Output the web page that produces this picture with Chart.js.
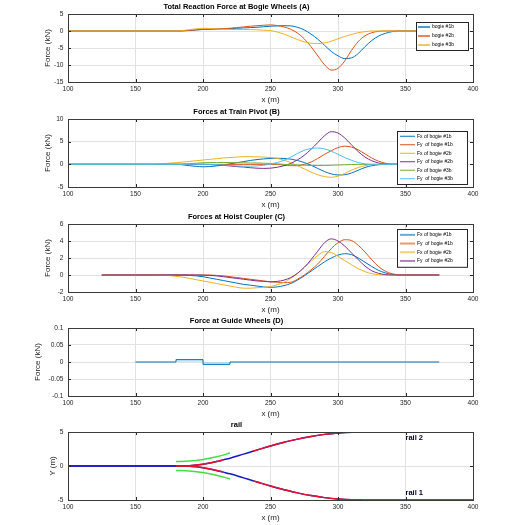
<!DOCTYPE html>
<html><head><meta charset="utf-8">
<script src="https://cdn.jsdelivr.net/npm/chart.js@4.4.0/dist/chart.umd.min.js"></script>
<style>
html,body{margin:0;padding:0;background:#fff;}
body{width:524px;height:525px;position:relative;overflow:hidden;}
canvas{position:absolute;left:0;}
</style></head><body>
<canvas id="cA" width="524" height="105" style="top:0px"></canvas>
<canvas id="cB" width="524" height="105" style="top:105px"></canvas>
<canvas id="cC" width="524" height="105" style="top:210px"></canvas>
<canvas id="cD" width="524" height="105" style="top:314px"></canvas>
<canvas id="cE" width="524" height="107" style="top:418px"></canvas>
<script>
// ---------------- DATA ----------------
const xTicksRange = [100, 400];
// positions along track (m)
const xsAB = [100,150,160,165,170,175,180,185,190,195,200,205,210,215,220,225,230,235,240,245,250,255,260,265,270,275,280,285,290,295,300,305,310,315,320,325,330,335,340,345,350,375];
const xsC  = [125,150,160,165,170,175,180,185,190,195,200,205,210,215,220,225,230,235,240,245,250,255,260,265,270,275,280,285,290,295,300,305,310,315,320,325,330,335,340,345,350,375];

// (A) Total reaction force at bogie wheels (kN)
const labelsA = ['bogie #1b','bogie #2b','bogie #3b'];
const bogie1b = [0,0, 0,0,0,0,0,0.05,0.15,0.3,0.45,0.5,0.55,0.6,0.7,0.8,0.9,1.0,1.1,1.25,1.4,1.5,1.55,1.5,1.1,0.3,-0.9,-2.4,-4.2,-6.0,-7.3,-8.1,-7.9,-6.6,-4.6,-2.8,-1.5,-0.7,-0.2,0,0, 0];
const bogie2b = [0,0, 0,0,0,0,0,0.05,0.2,0.35,0.5,0.55,0.6,0.7,0.8,1.0,1.2,1.4,1.55,1.7,1.8,1.6,1.2,0.5,-0.6,-2.3,-4.6,-7.3,-9.9,-11.5,-11.0,-8.8,-5.7,-3.1,-1.4,-0.5,-0.1,0,0,0,0, 0];
const bogie3b = [0,0, 0,0,0,0,0,0.15,0.4,0.65,0.8,0.75,0.6,0.5,0.45,0.45,0.45,0.4,0.35,0.25,0.1,-0.3,-0.9,-1.7,-2.5,-3.2,-3.6,-3.7,-3.5,-3.0,-2.3,-1.6,-1.0,-0.5,-0.2,0,0,0,0,0,0, 0];

// (B) Forces at train pivot (kN)
const labelsB = ['Fx of bogie #1b','Fy  of bogie #1b','Fx of bogie #2b','Fy  of bogie #2b','Fx of bogie #3b','Fy  of bogie #3b'];
const pivFx1 = [0,0, 0,0,0,0,0,-0.1,-0.3,-0.45,-0.55,-0.5,-0.35,-0.15,0.1,0.35,0.6,0.85,1.05,1.2,1.3,1.35,1.3,1.15,0.85,0.4,-0.2,-0.9,-1.6,-2.1,-2.35,-2.3,-1.9,-1.3,-0.7,-0.3,-0.1,0,0,0,0, 0];
const pivFy1 = [0,0, 0,0,0,0,0,0,0,0,0,0,0,0,0,0,0,0,0,0,0,0,-0.2,-0.3,-0.3,0,0.5,1.3,2.2,3.0,3.7,4.0,3.8,3.2,2.3,1.4,0.7,0.25,0.05,0,0, 0];
const pivFx2 = [0,0, 0,0.05,0.15,0.25,0.35,0.5,0.65,0.8,0.95,1.1,1.25,1.4,1.5,1.6,1.7,1.7,1.65,1.6,1.5,1.3,0.9,0.4,-0.3,-1.0,-1.7,-2.3,-2.7,-2.85,-2.6,-2.0,-1.3,-0.7,-0.3,-0.1,0,0,0,0,0, 0];
const pivFy2 = [0,0, 0,0,0,0,0,0,0,0,0,-0.05,-0.15,-0.25,-0.35,-0.5,-0.6,-0.75,-0.85,-0.9,-0.85,-0.65,-0.3,0.2,1.0,2.0,3.3,4.8,6.3,7.2,6.9,5.8,4.3,2.8,1.6,0.8,0.3,0.05,0,0,0, 0];
const pivFx3 = [0,0, 0,0,0,0,0,0.05,0.15,0.25,0.35,0.4,0.4,0.4,0.4,0.35,0.35,0.3,0.3,0.25,0.2,0.1,0,-0.1,-0.15,-0.2,-0.25,-0.25,-0.25,-0.2,-0.15,-0.1,-0.05,0,0,0,0,0,0,0,0, 0];
const pivFy3 = [0,0, 0,0,0,0,0,0,0,0,0,0,-0.05,-0.15,-0.25,-0.35,-0.4,-0.4,-0.35,-0.2,0.05,0.4,0.9,1.6,2.4,3.1,3.5,3.6,3.4,2.9,2.2,1.5,0.9,0.4,0.1,0,0,0,0,0,0, 0];

// (C) Forces at hoist coupler (kN)
const labelsC = ['Fx of bogie #1b','Fy  of bogie #1b','Fx of bogie #2b','Fy  of bogie #2b'];
const hoiFx1 = [0,0, 0,0,0,0,0,0,-0.05,-0.1,-0.2,-0.35,-0.5,-0.65,-0.8,-0.95,-1.1,-1.2,-1.3,-1.4,-1.45,-1.4,-1.25,-1.0,-0.6,-0.1,0.45,1.0,1.55,2.0,2.35,2.5,2.4,2.0,1.5,1.0,0.55,0.25,0.08,0,0, 0];
const hoiFy1 = [0,0, 0,0,0,0,0,0,0,0,0,0,-0.05,-0.1,-0.2,-0.3,-0.4,-0.5,-0.6,-0.7,-0.8,-0.85,-0.9,-0.85,-0.5,0,0.6,1.3,2.2,3.1,3.8,4.15,4.05,3.5,2.7,1.8,1.0,0.45,0.15,0.03,0, 0];
const hoiFx2 = [0,0, 0,0,-0.02,-0.07,-0.15,-0.25,-0.4,-0.55,-0.7,-0.85,-1.0,-1.15,-1.3,-1.45,-1.55,-1.55,-1.5,-1.45,-1.35,-1.15,-0.85,-0.4,0.2,0.9,1.6,2.3,2.75,2.65,2.2,1.7,1.2,0.75,0.4,0.15,0.05,0,0,0,0, 0];
const hoiFy2 = [0,0, 0,0,0,0,0,0,0,0,-0.02,-0.05,-0.1,-0.2,-0.3,-0.4,-0.5,-0.6,-0.7,-0.75,-0.8,-0.75,-0.6,-0.3,0.2,0.9,1.8,2.8,3.8,4.25,4.0,3.4,2.6,1.8,1.05,0.5,0.2,0.05,0,0,0, 0];

// (D) Force at guide wheels (kN), piecewise constant
const xsD = [150,180,200,220,375];
const guideF = [0,0.007,-0.007,0,0];

// (E) rail geometry (m)
const railX  = [100,180,190,200,210,215,220,230,237,240,250,260,270,280,290,300,310,318,320,400];
const rail2Y = [0,0,0.05,0.25,0.65,0.9,1.15,1.75,2.17,2.35,2.95,3.5,3.95,4.35,4.65,4.85,4.97,5,5,5];
const rail1Y = [0,0,-0.05,-0.25,-0.65,-0.9,-1.15,-1.75,-2.17,-2.35,-2.95,-3.5,-3.95,-4.35,-4.65,-4.85,-4.97,-5,-5,-5];
const trainSegments = [[180,215],[237,318]];
const guideX  = [180,190,200,210,220];
const guideUp = [0.65,0.72,0.95,1.35,1.9];
const guideDn = [-0.65,-0.72,-0.95,-1.35,-1.9];
const railTextX = [350,350];
const railTextY = [4.1,-4.0];
const railText  = ['rail 2','rail 1'];

// ---------------- STYLE / BUILD ----------------
const FONT = "'Liberation Sans', Arial, Helvetica, sans-serif";
const MC = ['#0072BD','#D95319','#EDB120','#7E2F8E','#77AC30','#4DBEEE'];

const pts = (xs, ys) => xs.map((x, i) => ({x: x, y: ys[i]}));

const matBox = {
  id: 'matBox',
  afterDraw(chart) {
    const {ctx, chartArea: a, scales} = chart;
    ctx.save();
    ctx.strokeStyle = '#262626';
    ctx.lineWidth = 1;
    ctx.beginPath();
    scales.x.ticks.forEach(t => {
      const px = Math.round(scales.x.getPixelForValue(t.value)) + 0.5;
      ctx.moveTo(px, a.bottom); ctx.lineTo(px, a.bottom - 3);
      ctx.moveTo(px, a.top); ctx.lineTo(px, a.top + 3);
    });
    scales.y.ticks.forEach(t => {
      const py = Math.round(scales.y.getPixelForValue(t.value)) + 0.5;
      ctx.moveTo(a.left, py); ctx.lineTo(a.left + 3, py);
      ctx.moveTo(a.right, py); ctx.lineTo(a.right - 3, py);
    });
    ctx.stroke();
    ctx.strokeStyle = '#3a3a3a';
    ctx.strokeRect(Math.round(a.left) + 0.5, Math.round(a.top) + 0.5, Math.round(a.right - a.left), Math.round(a.bottom - a.top));
    ctx.restore();
  }
};

const boxLegend = {
  id: 'boxLegend',
  afterDraw(chart, args, o) {
    if (!o || !o.show) return;
    const ctx = chart.ctx;
    const ds = chart.data.datasets;
    const n = ds.length;
    const h = o.pad * 2 + n * o.rowH;
    ctx.save();
    ctx.fillStyle = '#fff';
    ctx.fillRect(o.x, o.y, o.w, h);
    ctx.strokeStyle = '#262626';
    ctx.lineWidth = 1;
    ctx.strokeRect(o.x + 0.5, o.y + 0.5, o.w, h);
    ctx.font = o.fontSize + 'px ' + FONT;
    ctx.textBaseline = 'middle';
    ds.forEach((d, i) => {
      const cy = o.y + o.pad + o.rowH * (i + 0.5);
      ctx.globalAlpha = o.alpha;
      ctx.strokeStyle = d.borderColor;
      ctx.lineWidth = o.lw;
      ctx.beginPath();
      ctx.moveTo(o.x + o.l0, cy); ctx.lineTo(o.x + o.l1, cy);
      ctx.stroke();
      ctx.globalAlpha = 1;
      ctx.fillStyle = '#000';
      ctx.fillText(d.label, o.x + o.l1 + 2, cy);
    });
    ctx.restore();
  }
};

const railLabels = {
  id: 'railLabels',
  afterDatasetsDraw(chart, args, o) {
    if (!o || !o.show) return;
    const {ctx, scales} = chart;
    ctx.save();
    ctx.font = 'bold 7.5px ' + FONT;
    ctx.fillStyle = '#000030';
    ctx.textBaseline = 'middle';
    railText.forEach((t, i) => {
      ctx.fillText(t, scales.x.getPixelForValue(railTextX[i]), scales.y.getPixelForValue(railTextY[i]));
    });
    ctx.restore();
  }
};

function fmt(v) { return String(Number(v.toFixed(3))); }

function makeOptions(p) {
  return {
    responsive: false, animation: false, maintainAspectRatio: false,
    layout: {padding: {left: 0, right: 51, top: 0, bottom: 0}},
    plugins: {
      legend: {display: false}, tooltip: {enabled: false},
      title: {display: true, text: p.title, color: '#000', font: {family: FONT, size: 7.5, weight: 'bold', lineHeight: 1.2}, padding: {top: 2.5, bottom: 2.5}},
      boxLegend: p.legend || {show: false},
      railLabels: {show: !!p.railLabels}
    },
    elements: {point: {radius: 0}},
    scales: {
      x: {
        type: 'linear', min: xTicksRange[0], max: xTicksRange[1],
        ticks: {stepSize: 50, color: '#262626', font: {family: FONT, size: 6.6}, padding: 3, maxRotation: 0, autoSkip: false, callback: fmt},
        grid: {color: '#e2e2e2', drawTicks: false, lineWidth: 1},
        border: {display: false},
        title: {display: true, text: 'x (m)', color: '#262626', font: {family: FONT, size: 8, lineHeight: 1.2}, padding: {top: 0, bottom: p.xTitlePad}},
        afterFit: s => { s.height = p.xH; }
      },
      y: {
        type: 'linear', min: p.ymin, max: p.ymax,
        ticks: {stepSize: p.ystep, color: '#262626', font: {family: FONT, size: 6.6}, padding: 4.5, autoSkip: false, callback: fmt},
        grid: {color: '#e2e2e2', drawTicks: false, lineWidth: 1},
        border: {display: false},
        title: {display: true, text: p.ylabel, color: '#262626', font: {family: FONT, size: 8, lineHeight: 1.2}, padding: {top: p.yTitlePad, bottom: 0}},
        afterFit: s => { s.width = 68; }
      }
    }
  };
}

function lineDs(label, xs, ys, color, extra) {
  return Object.assign({label: label, data: pts(xs, ys), borderColor: color, backgroundColor: color, borderWidth: 1, pointRadius: 0, fill: false, cubicInterpolationMode: 'monotone'}, extra || {});
}
// later series drawn on top (as in MATLAB)
const stackUp = arr => arr.map((d, i) => Object.assign(d, {order: -i}));

const plugins = [matBox, boxLegend, railLabels];

// Panel A
new Chart(document.getElementById('cA'), {
  type: 'line',
  data: {datasets: stackUp([
    lineDs(labelsA[0], xsAB, bogie1b, MC[0]),
    lineDs(labelsA[1], xsAB, bogie2b, MC[1]),
    lineDs(labelsA[2], xsAB, bogie3b, MC[2])
  ])},
  options: makeOptions({title: 'Total Reaction Force at Bogie Wheels (A)', ymin: -15, ymax: 5, ystep: 5, ylabel: 'Force (kN)', yTitlePad: 43, xH: 23, xTitlePad: 0.3,
    legend: {show: true, x: 416, y: 22, w: 52, rowH: 9, pad: 0.5, fontSize: 5, l0: 2, l1: 14, lw: 2, alpha: 0.7}}),
  plugins: plugins
});

// Panel B
new Chart(document.getElementById('cB'), {
  type: 'line',
  data: {datasets: stackUp([
    lineDs(labelsB[0], xsAB, pivFx1, MC[0]),
    lineDs(labelsB[1], xsAB, pivFy1, MC[1]),
    lineDs(labelsB[2], xsAB, pivFx2, MC[2]),
    lineDs(labelsB[3], xsAB, pivFy2, MC[3]),
    lineDs(labelsB[4], xsAB, pivFx3, MC[4]),
    lineDs(labelsB[5], xsAB, pivFy3, MC[5])
  ])},
  options: makeOptions({title: 'Forces at Train Pivot (B)', ymin: -5, ymax: 10, ystep: 5, ylabel: 'Force (kN)', yTitlePad: 43, xH: 23, xTitlePad: 0.3,
    legend: {show: true, x: 397, y: 26, w: 70, rowH: 8.5, pad: 1, fontSize: 5, l0: 3, l1: 18, lw: 1, alpha: 1}}),
  plugins: plugins
});

// Panel C
new Chart(document.getElementById('cC'), {
  type: 'line',
  data: {datasets: stackUp([
    lineDs(labelsC[0], xsC, hoiFx1, MC[0]),
    lineDs(labelsC[1], xsC, hoiFy1, MC[1]),
    lineDs(labelsC[2], xsC, hoiFx2, MC[2]),
    lineDs(labelsC[3], xsC, hoiFy2, MC[3])
  ])},
  options: makeOptions({title: 'Forces at Hoist Coupler (C)', ymin: -2, ymax: 6, ystep: 2, ylabel: 'Force (kN)', yTitlePad: 43, xH: 23, xTitlePad: 0.3,
    legend: {show: true, x: 397, y: 19, w: 70, rowH: 8.7, pad: 1.5, fontSize: 5, l0: 3, l1: 18, lw: 2, alpha: 0.6}}),
  plugins: plugins
});

// Panel D
new Chart(document.getElementById('cD'), {
  type: 'line',
  data: {datasets: [
    {label: 'guide', data: pts(xsD, guideF), borderColor: MC[0], backgroundColor: 'rgba(77,190,238,0.3)', borderWidth: 1, pointRadius: 0, stepped: true, fill: 'origin'}
  ]},
  options: makeOptions({title: 'Force at Guide Wheels (D)', ymin: -0.1, ymax: 0.1, ystep: 0.05, ylabel: 'Force (kN)', yTitlePad: 33, xH: 23, xTitlePad: 0.3}),
  plugins: plugins
});

// Panel E
const redOf = (ys) => railX.map((x, i) => trainSegments.some(s => x >= s[0] && x <= s[1]) ? ys[i] : null);
new Chart(document.getElementById('cE'), {
  type: 'line',
  data: {datasets: [
    lineDs('rail 2', railX, rail2Y, '#1818c0', {borderWidth: 1.5, order: 3}),
    lineDs('rail 1', railX, rail1Y, '#1818c0', {borderWidth: 1.5, order: 3}),
    lineDs('train 2', railX, redOf(rail2Y), '#e8102a', {borderWidth: 1.5, spanGaps: false, order: 2}),
    lineDs('train 1', railX, redOf(rail1Y), '#e8102a', {borderWidth: 1.5, spanGaps: false, order: 2}),
    lineDs('guide up', guideX, guideUp, '#44dd44', {borderWidth: 1.5, order: 1}),
    lineDs('guide dn', guideX, guideDn, '#44dd44', {borderWidth: 1.5, order: 1})
  ]},
  options: makeOptions({title: 'rail', ymin: -5, ymax: 5, ystep: 5, ylabel: 'Y (m)', yTitlePad: 48, xH: 25, xTitlePad: 2, railLabels: true}),
  plugins: plugins
});
</script>
</body></html>
